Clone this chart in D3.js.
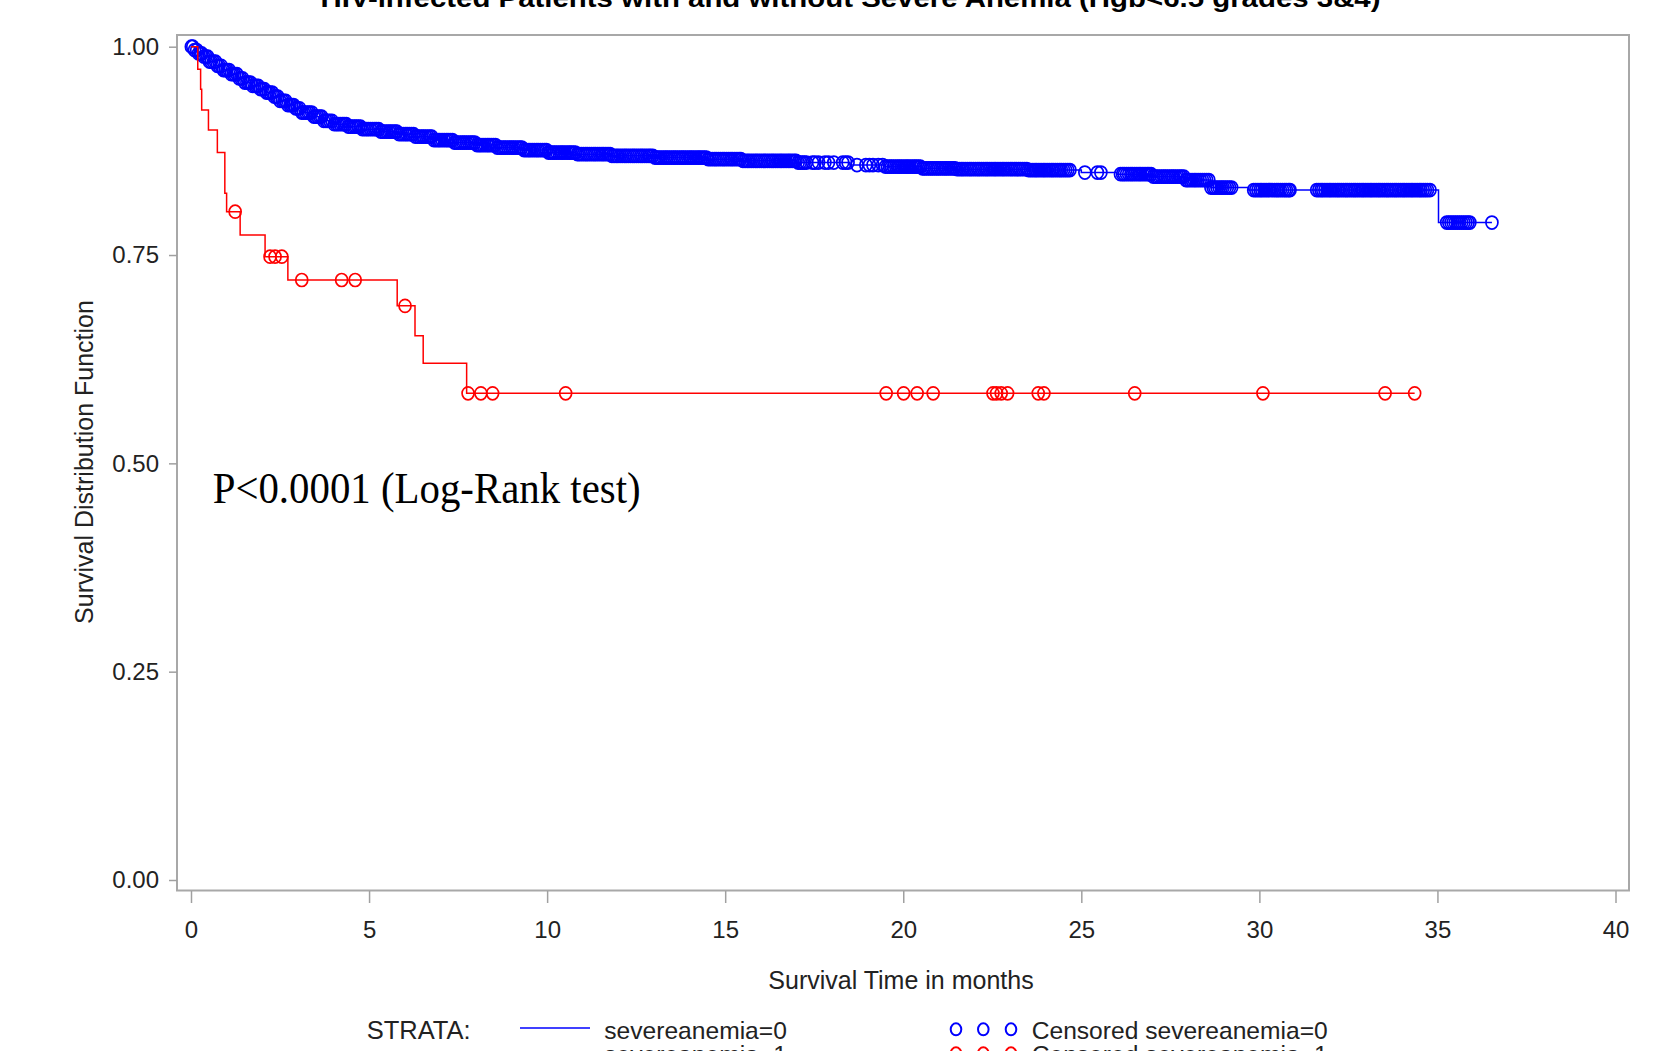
<!DOCTYPE html>
<html>
<head>
<meta charset="utf-8">
<script src="https://cdn.jsdelivr.net/npm/d3@7"></script>
<style>
body { margin: 0; background: #fff; }
text { font-family: Arial, "Liberation Sans", sans-serif; fill: #222; }
</style>
</head>
<body>
<svg></svg>
<script>
let width = 1672
let height = 1051

// Kaplan-Meier steps, severeanemia=0 (months, survival)
let blueTimes = [0, 0.1, 0.2, 0.35, 0.5, 0.7, 0.9, 1.1, 1.3, 1.5, 1.7, 1.9, 2.1, 2.3, 2.5, 2.7, 2.9, 3.1, 3.4, 3.7,
    4.0, 4.4, 4.8, 5.3, 5.8, 6.3, 6.8, 7.4, 8.0, 8.6, 9.3, 10.0, 10.8, 11.8, 13.0, 14.5, 15.5, 17.0, 18.5, 19.5,
    20.5, 21.5, 23.5, 25.0, 26.0, 27.0, 27.9, 28.64, 29.7, 35.03]
let blueSurv = [1.0, 0.996, 0.992, 0.988, 0.982, 0.977, 0.972, 0.967, 0.962, 0.957, 0.953, 0.949, 0.945, 0.940, 0.935, 0.930, 0.926, 0.921, 0.916, 0.911,
    0.907, 0.904, 0.901, 0.898, 0.895, 0.892, 0.888, 0.885, 0.882, 0.879, 0.876, 0.873, 0.871, 0.869, 0.867, 0.865, 0.863, 0.861, 0.858, 0.856,
    0.854, 0.853, 0.852, 0.849, 0.847, 0.844, 0.840, 0.831, 0.828, 0.789]

// censored times, severeanemia=0
let blueCensored = [
    0.01, 0.05, 0.1, 0.16, 0.21, 0.26, 0.3, 0.36, 0.42, 0.47, 0.52, 0.57, 0.63, 0.69, 0.74, 0.79, 0.85, 0.91, 0.96,
    1.01, 1.07, 1.13, 1.18, 1.23, 1.29, 1.35, 1.4, 1.45, 1.51, 1.57, 1.62, 1.67, 1.73, 1.79, 1.84, 1.89, 1.95,
    2.0, 2.06, 2.12, 2.17, 2.22, 2.28, 2.34, 2.39, 2.44, 2.5, 2.56, 2.61, 2.66, 2.72, 2.78, 2.83, 2.88, 2.94, 2.99,
    3.05, 3.11, 3.16, 3.22, 3.28, 3.33, 3.39, 3.45, 3.5, 3.56, 3.62, 3.67, 3.73, 3.79, 3.84, 3.9, 3.96,
    4.02, 4.08, 4.13, 4.19, 4.25, 4.3, 4.36, 4.42, 4.47, 4.53, 4.59, 4.64, 4.7, 4.76, 4.81, 4.87, 4.93, 4.98,
    5.04, 5.1, 5.16, 5.21, 5.27, 5.33, 5.38, 5.44, 5.5, 5.56, 5.61, 5.67, 5.73, 5.78, 5.84, 5.9, 5.96,
    6.02, 6.07, 6.13, 6.19, 6.25, 6.3, 6.36, 6.42, 6.48, 6.53, 6.59, 6.65, 6.71, 6.76, 6.82, 6.88, 6.94, 6.99,
    7.05, 7.11, 7.17, 7.22, 7.28, 7.34, 7.4, 7.45, 7.51, 7.57, 7.63, 7.68, 7.74, 7.8, 7.86, 7.91, 7.97,
    8.03, 8.09, 8.14, 8.2, 8.26, 8.32, 8.37, 8.43, 8.49, 8.55, 8.6, 8.66, 8.72, 8.78, 8.83, 8.89, 8.95,
    9.01, 9.06, 9.12, 9.18, 9.24, 9.29, 9.35, 9.41, 9.47, 9.52, 9.58, 9.64, 9.7, 9.75, 9.81, 9.87, 9.93, 9.98,
    10.04, 10.1, 10.16, 10.21, 10.27, 10.33, 10.39, 10.44, 10.5, 10.56, 10.62, 10.67, 10.73, 10.79, 10.85, 10.9, 10.96,
    11.02, 11.08, 11.13, 11.19, 11.25, 11.31, 11.36, 11.42, 11.48, 11.54, 11.59, 11.65, 11.71, 11.77, 11.82, 11.88, 11.94, 11.99,
    12.05, 12.11, 12.17, 12.22, 12.28, 12.34, 12.4, 12.45, 12.51, 12.57, 12.63, 12.68, 12.74, 12.8, 12.86, 12.91, 12.97,
    13.03, 13.09, 13.14, 13.2, 13.26, 13.32, 13.37, 13.43, 13.49, 13.55, 13.6, 13.66, 13.72, 13.78, 13.83, 13.89, 13.95,
    14.01, 14.06, 14.12, 14.18, 14.24, 14.29, 14.35, 14.41, 14.47, 14.52, 14.58, 14.64, 14.7, 14.75, 14.81, 14.87, 14.93, 14.98,
    15.04, 15.1, 15.16, 15.21, 15.27, 15.33, 15.39, 15.44, 15.5, 15.56, 15.62, 15.67, 15.73, 15.79, 15.85, 15.9, 15.96,
    16.02, 16.08, 16.13, 16.19, 16.25, 16.31, 16.36, 16.42, 16.48, 16.54, 16.59, 16.65, 16.71, 16.77, 16.82, 16.88, 16.94, 16.99,
    17.05, 17.11, 17.17, 17.22, 17.28,
    17.45, 17.52, 17.62, 17.8, 17.9, 18.05, 18.3, 18.38, 18.45, 18.7, 18.95, 19.05, 19.15, 19.3, 19.42,
    19.5, 19.56, 19.62, 19.67, 19.73, 19.79, 19.85, 19.9, 19.96,
    20.02, 20.08, 20.13, 20.19, 20.25, 20.31, 20.36, 20.42, 20.48, 20.54, 20.59, 20.65, 20.71, 20.77, 20.82, 20.88, 20.94, 20.99,
    21.05, 21.11, 21.17, 21.22, 21.28, 21.34, 21.4, 21.45, 21.51, 21.57, 21.63, 21.68, 21.74, 21.8, 21.86, 21.91, 21.97,
    22.03, 22.09, 22.14, 22.2, 22.26, 22.32, 22.37, 22.43, 22.49, 22.55, 22.6, 22.66, 22.72, 22.78, 22.83, 22.89, 22.95,
    23.01, 23.06, 23.12, 23.18, 23.24, 23.29, 23.35, 23.41, 23.47, 23.52, 23.58, 23.64, 23.7, 23.75, 23.81, 23.87, 23.93, 23.98,
    24.04, 24.1, 24.16, 24.21, 24.27, 24.33, 24.39, 24.44, 24.5, 24.56, 24.62, 24.68,
    25.1, 25.45, 25.55,
    26.1, 26.16, 26.21, 26.27, 26.33, 26.39, 26.44, 26.5, 26.56, 26.62, 26.67, 26.73, 26.79, 26.85, 26.9, 26.96,
    27.02, 27.08, 27.13, 27.19, 27.25, 27.31, 27.36, 27.42, 27.48, 27.54, 27.59, 27.65, 27.71, 27.77, 27.82, 27.88, 27.94, 27.99,
    28.05, 28.11, 28.17, 28.22, 28.28, 28.34, 28.4, 28.46, 28.52, 28.58, 28.64, 28.7, 28.75, 28.81, 28.87, 28.93, 28.98,
    29.04, 29.1, 29.16, 29.22,
    29.84, 29.9, 29.96, 30.02, 30.07, 30.13, 30.19, 30.25, 30.3, 30.36, 30.42, 30.48, 30.53, 30.59, 30.65, 30.71, 30.76, 30.82, 30.86,
    31.61, 31.67, 31.73, 31.78, 31.84, 31.9, 31.96, 32.01, 32.07, 32.13, 32.19, 32.24, 32.3, 32.36, 32.42, 32.47, 32.53, 32.59,
    32.65, 32.7, 32.76, 32.82, 32.88, 32.93, 32.99, 33.05, 33.11, 33.16, 33.22, 33.28, 33.34, 33.39, 33.45, 33.51, 33.57, 33.62,
    33.68, 33.74, 33.8, 33.85, 33.91, 33.97, 34.03, 34.08, 34.14, 34.2, 34.26, 34.31, 34.37, 34.43, 34.49, 34.54, 34.6, 34.66,
    34.72, 34.79,
    35.26, 35.32, 35.38, 35.44, 35.5, 35.56, 35.62, 35.68, 35.74, 35.8, 35.86, 35.91,
    36.53
]

// Kaplan-Meier steps, severeanemia=1
let redTimes = [0, 0.19, 0.27, 0.30, 0.49, 0.74, 0.95, 1.00, 1.38, 2.08, 2.72, 5.79, 6.29, 6.52, 7.74]
let redSurv = [1.0, 0.973, 0.949, 0.924, 0.900, 0.873, 0.824, 0.802, 0.774, 0.748, 0.720, 0.689, 0.653, 0.620, 0.584]
let redCensored = [1.24, 2.22, 2.36, 2.55, 3.11, 4.23, 4.61, 6.01, 7.78, 8.14, 8.47, 10.52, 19.52, 20.01, 20.39, 20.84,
    22.52, 22.62, 22.75, 22.93, 23.79, 23.95, 26.50, 30.10, 33.53, 34.36]

let xTicks = [0, 5, 10, 15, 20, 25, 30, 35, 40]
let yTicks = [0, 0.25, 0.5, 0.75, 1]
let strata = ['severeanemia=0', 'severeanemia=1']
let strataColors = ['#0000ff', '#ff0000']

let titleText = 'HIV-infected Patients with and without Severe Anemia (Hgb<6.5 grades 3&4)'
let pText = 'P<0.0001 (Log-Rank test)'

let svg = d3.select('svg')
    .attr('width', width)
    .attr('height', height)

let x = d3.scaleLinear().domain([0, 40]).range([191, 1615.5])
let y = d3.scaleLinear().domain([0, 1]).range([880, 46.7])

// title (cut by the top edge in the original picture)
svg.append('text')
    .attr('x', 850.5)
    .attr('y', 7)
    .attr('text-anchor', 'middle')
    .attr('textLength', 1060)
    .attr('lengthAdjust', 'spacingAndGlyphs')
    .style('font-size', '26px')
    .style('font-weight', 'bold')
    .style('fill', '#000')
    .text(titleText)

// frame
svg.append('rect')
    .attr('x', 177)
    .attr('y', 35)
    .attr('width', 1452)
    .attr('height', 855.5)
    .attr('fill', 'none')
    .attr('stroke', '#a8a8a8')
    .attr('stroke-width', 2)

let yAxis = svg.append('g')
    .attr('transform', 'translate(177,0)')
    .call(d3.axisLeft(y).tickValues(yTicks).tickFormat(d3.format('.2f')).tickSize(8).tickPadding(10))
let xAxis = svg.append('g')
    .attr('transform', 'translate(0,891)')
    .call(d3.axisBottom(x).tickValues(xTicks).tickSize(12).tickPadding(18))
;[yAxis, xAxis].forEach(g => {
    g.select('.domain').remove()
    g.selectAll('line').attr('stroke', '#a0a0a0').attr('stroke-width', 1.5)
    g.selectAll('text')
        .style('font-family', 'Arial, "Liberation Sans", sans-serif')
        .style('font-size', '24px')
        .style('fill', '#222')
})

svg.append('text')
    .attr('x', 901)
    .attr('y', 989)
    .attr('text-anchor', 'middle')
    .style('font-size', '25px')
    .text('Survival Time in months')

svg.append('text')
    .attr('transform', 'translate(93,462) rotate(-90)')
    .attr('text-anchor', 'middle')
    .style('font-size', '25px')
    .text('Survival Distribution Function')

// survival curves
function survAt(times, surv, t) {
    return surv[Math.max(0, d3.bisectRight(times, t) - 1)]
}

let groups = [
    { times: blueTimes, surv: blueSurv, censored: blueCensored, color: strataColors[0] },
    { times: redTimes, surv: redSurv, censored: redCensored, color: strataColors[1] }
]

let line = d3.line()
    .x(d => x(d[0]))
    .y(d => y(d[1]))
    .curve(d3.curveStepAfter)

let plot = svg.append('g')
groups.forEach(g => {
    let pts = g.times.map((t, i) => [t, g.surv[i]])
    let last = d3.max(g.censored)
    pts.push([last, survAt(g.times, g.surv, last)])
    plot.append('path')
        .attr('d', line(pts))
        .attr('fill', 'none')
        .attr('stroke', g.color)
        .attr('stroke-width', 1.5)
    plot.append('g').selectAll('ellipse')
        .data(g.censored).enter()
        .append('ellipse')
        .attr('cx', d => x(d))
        .attr('cy', d => y(survAt(g.times, g.surv, d)))
        .attr('rx', 6)
        .attr('ry', 6.5)
        .attr('fill', 'none')
        .attr('stroke', g.color)
        .attr('stroke-width', 1.7)
})

svg.append('text')
    .attr('x', 212.7)
    .attr('y', 503)
    .attr('textLength', 428)
    .attr('lengthAdjust', 'spacingAndGlyphs')
    .style('font-family', '"Liberation Serif", "Times New Roman", serif')
    .style('font-size', '45px')
    .style('fill', '#000')
    .text(pText)

// legend
svg.append('text')
    .attr('x', 366.7)
    .attr('y', 1039.3)
    .style('font-size', '25.5px')
    .text('STRATA:')

let legend = svg.append('g').selectAll('g')
    .data(strata).enter()
    .append('g')
    .attr('transform', (d, i) => `translate(0,${i * 24})`)
legend.append('line')
    .attr('x1', 520).attr('x2', 590)
    .attr('y1', 1028).attr('y2', 1028)
    .attr('stroke', (d, i) => strataColors[i])
    .attr('stroke-width', 1.5)
legend.append('text')
    .attr('x', 604.3)
    .attr('y', 1039.3)
    .style('font-size', '24.6px')
    .text(d => d)
legend.selectAll('ellipse')
    .data((d, i) => [956, 983.3, 1011].map(cx => ({ cx, color: strataColors[i] })))
    .enter()
    .append('ellipse')
    .attr('cx', d => d.cx)
    .attr('cy', 1029.3)
    .attr('rx', 5.3)
    .attr('ry', 6)
    .attr('fill', 'none')
    .attr('stroke', d => d.color)
    .attr('stroke-width', 2)
legend.append('text')
    .attr('x', 1031.7)
    .attr('y', 1039.3)
    .style('font-size', '24.6px')
    .text(d => 'Censored ' + d)
</script>
</body>
</html>
